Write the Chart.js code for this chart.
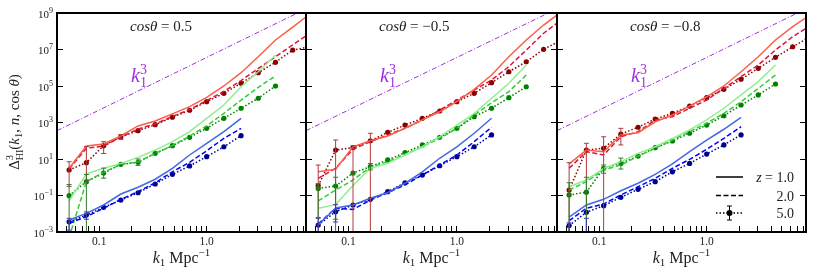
<!DOCTYPE html>
<html>
<head>
<meta charset="utf-8">
<title>Delta HI bispectrum</title>
<script src="https://cdn.jsdelivr.net/npm/chart.js@4.4.1/dist/chart.umd.min.js"></script>
<style>
  body { margin: 0; background: #fff; }
  #fig { position: relative; width: 814px; height: 271px; }
  #fig canvas { position: absolute; left: 0; top: 0; }
</style>
</head>
<body>
<div id="fig">
  <canvas id="panel0" width="814" height="271"></canvas>
  <canvas id="panel1" width="814" height="271"></canvas>
  <canvas id="panel2" width="814" height="271"></canvas>
</div>
<script>
// k1 bins (Mpc^-1), common to every curve
const kVals = [0.0525, 0.076, 0.11, 0.159, 0.23, 0.332, 0.48, 0.694, 1.0, 1.446, 2.09, 3.02, 4.37, 6.32, 9.14];

// axis ranges and ticks
const xMin = 0.0405;
const xMax = 8.4;
const xTickVals = [0.05, 0.06, 0.07, 0.08, 0.09, 0.1, 0.2, 0.3, 0.4, 0.5, 0.6, 0.7, 0.8, 0.9, 1, 2, 3, 4, 5, 6, 7, 8];
const xLabelVals = [0.1, 1.0];
const xLabelText = ['0.1', '1.0'];
const yTickExps = [-3, -1, 1, 3, 5, 7, 9];

// panel titles (cos theta)
const cosVals = ['0.5', '\u22120.5', '\u22120.8'];

// k1^3 guide line: [k, log10 value]
const guideK = [0.0405, 7.0];
const guideLog = [2.55, 9.0];

// legend (line style = redshift)
const legendZ = ['1.0', '2.0', '5.0'];

// values below are log10 of Delta^3
// panel 1: cos theta = 0.5
const p1RedSolid = [0.49, 1.71, 1.82, 2.26, 2.81, 3.08, 3.47, 3.87, 4.38, 5.0, 5.73, 6.6, 7.52, 8.23, 8.95];
const p1RedDash = [0.45, 1.59, 1.71, 2.2, 2.64, 2.92, 3.33, 3.71, 4.2, 4.7, 5.3, 5.96, 6.6, 7.25, 7.9];
const p1RedDot = [0.4, 0.8, 1.73, 2.21, 2.55, 2.88, 3.29, 3.67, 4.14, 4.6, 5.15, 5.73, 6.3, 6.97, 7.15];
const p1GreenSolid = [-1.3, 0.18, 0.49, 0.76, 1.09, 1.49, 1.95, 2.5, 3.23, 3.96, 4.96, 5.78, 6.7];
const p1GreenDash = [-3.3, -0.24, 0.27, 0.71, 0.85, 1.31, 1.73, 2.26, 2.81, 3.5, 4.23, 4.93, 5.55];
const p1GreenDot = [-1.01, -0.24, 0.23, 0.71, 0.82, 1.31, 1.73, 2.19, 2.68, 3.23, 3.78, 4.33, 5.0];
const p1BlueSolid = [-2.34, -1.98, -1.52, -0.92, -0.55, -0.11, 0.49, 1.22, 1.86, 2.5, 3.23];
const p1BlueDash = [-2.52, -2.16, -1.7, -1.21, -0.79, -0.3, 0.3, 0.82, 1.45, 2.13, 2.68];
const p1BlueDot = [-2.44, -2.07, -1.65, -1.25, -0.85, -0.37, 0.16, 0.62, 1.13, 1.67, 2.28];
// error bars on z = 5: [bin, log10 low, log10 high]
const p1ErrRed = [[0, -0.5, 0.85], [1, -0.2, 1.68], [2, 1.3, 1.95], [3, 2.08, 2.34]];
const p1ErrGreen = [[0, -4, -0.4], [1, -4, 0.15], [2, -0.05, 0.5], [4, 0.65, 1.0]];
const p1ErrBlue = [[0, -2.9, -2.25], [1, -2.3, -1.9]];

// panel 2: cos theta = -0.5
const p2RedSolid = [0.3, 0.44, 1.67, 2.0, 2.26, 2.68, 3.14, 3.59, 4.14, 4.82, 5.6, 6.6, 7.52, 8.34, 9.05];
const p2RedDash = [-0.06, 0.49, 1.53, 1.95, 2.32, 2.68, 3.14, 3.68, 4.23, 4.78, 5.33, 6.06, 6.97, 7.89, 8.6];
const p2RedDot = [-0.46, 1.49, 1.62, 2.0, 2.46, 2.86, 3.23, 3.63, 4.14, 4.6, 5.18, 5.78, 6.33, 7.01, 7.5];
const p2GreenSolid = [-1.7, -1.5, -0.45, 0.49, 0.76, 1.22, 1.67, 2.22, 2.86, 3.5, 4.33, 5.15, 6.15];
const p2GreenDash = [-1.3, -0.7, -0.15, 0.55, 0.85, 1.27, 1.67, 2.13, 2.68, 3.41, 4.08, 4.69, 5.6];
const p2GreenDot = [-0.62, -0.48, 0.23, 0.58, 0.95, 1.35, 1.77, 2.19, 2.68, 3.32, 3.78, 4.36, 4.96];
const p2BlueSolid = [-2.62, -1.68, -1.52, -1.15, -0.85, -0.33, 0.3, 1.04, 1.67, 2.41, 3.23];
const p2BlueDash = [-2.56, -1.7, -1.76, -1.25, -0.85, -0.42, 0.12, 0.67, 1.22, 1.95, 2.74];
const p2BlueDot = [-2.62, -1.89, -1.52, -1.21, -0.79, -0.3, 0.12, 0.63, 1.13, 1.67, 2.32];
const p2ErrRed = [[0, -4, 0.67], [1, -4, 2.04], [2, -4, 1.73], [3, -4, 2.41]];
const p2ErrGreen = [[0, -2.2, -0.35], [1, -2.3, 0.0], [3, 0.4, 0.75]];
const p2ErrBlue = [[0, -4, -2.25], [1, -2.45, -1.5]];

// panel 3: cos theta = -0.8
const p3RedSolid = [0.73, 1.49, 1.4, 2.32, 2.44, 3.04, 3.41, 3.9, 4.41, 5.0, 5.78, 6.6, 7.52, 8.25, 8.9];
const p3RedDash = [0.49, 1.4, 1.22, 2.22, 2.5, 3.14, 3.32, 3.78, 4.23, 4.87, 5.51, 6.15, 6.97, 7.7, 8.3];
const p3RedDot = [-0.7, 1.49, 1.59, 2.37, 2.74, 3.19, 3.5, 3.9, 4.36, 4.82, 5.37, 5.97, 6.57, 7.15, 7.7];
const p3GreenSolid = [-0.52, -0.15, 0.49, 0.85, 1.31, 1.67, 2.13, 2.59, 3.14, 3.78, 4.51, 5.24, 6.15];
const p3GreenDash = [-0.7, -0.24, 0.4, 0.67, 1.16, 1.59, 2.04, 2.5, 2.96, 3.5, 4.14, 4.87, 5.6];
const p3GreenDot = [-0.97, -0.82, 0.49, 0.76, 1.16, 1.62, 1.99, 2.41, 2.86, 3.37, 3.96, 4.51, 5.11];
const p3BlueSolid = [-2.19, -1.52, -1.21, -0.74, -0.33, 0.16, 0.73, 1.4, 2.04, 2.63, 3.28];
const p3BlueDash = [-2.38, -1.7, -1.47, -0.97, -0.52, -0.06, 0.49, 0.98, 1.53, 2.13, 2.77];
const p3BlueDot = [-2.65, -1.92, -1.56, -1.1, -0.66, -0.24, 0.3, 0.76, 1.27, 1.77, 2.32];
const p3ErrRed = [[0, -4, 0.8], [1, -4, 1.86], [2, -4, 2.22], [3, 1.77, 2.68]];
const p3ErrGreen = [[0, -4, -0.3], [1, -4, 0.0], [2, 0.22, 0.67], [3, 0.45, 1.05]];
const p3ErrBlue = [[0, -4, -2.5], [1, -4, -2.25]];

// colours per family: [z=1 solid, z=2 dashed, z=5 dotted]
const famColors = {
    red: ['#fa5f45', '#dc143c', '#8b0000'],
    green: ['#90ee90', '#32cd32', '#008000'],
    blue: ['#4169e1', '#0000ff', '#00008b']
};
const errColors = { red: '#b03a3a', green: '#2e7d2e', blue: '#3a3ab0' };
const guideColor = '#a02ee0';

const panels = [
    { red: [p1RedSolid, p1RedDash, p1RedDot], green: [p1GreenSolid, p1GreenDash, p1GreenDot], blue: [p1BlueSolid, p1BlueDash, p1BlueDot],
      err: { red: p1ErrRed, green: p1ErrGreen, blue: p1ErrBlue } },
    { red: [p2RedSolid, p2RedDash, p2RedDot], green: [p2GreenSolid, p2GreenDash, p2GreenDot], blue: [p2BlueSolid, p2BlueDash, p2BlueDot],
      err: { red: p2ErrRed, green: p2ErrGreen, blue: p2ErrBlue } },
    { red: [p3RedSolid, p3RedDash, p3RedDot], green: [p3GreenSolid, p3GreenDash, p3GreenDot], blue: [p3BlueSolid, p3BlueDash, p3BlueDot],
      err: { red: p3ErrRed, green: p3ErrGreen, blue: p3ErrBlue } }
];

// panel boxes in the page (px)
const boxes = [[57, 306], [306, 557], [557, 806]];
const boxTop = 13;
const boxBottom = 232;

const serif = '"Liberation Serif", "DejaVu Serif", serif';
const dashes = [[], [5, 2.5], [1.5, 2]];

// draws text pieces one after the other (for sub/superscripts)
function rich(ctx, parts, x, y, align) {
    let total = 0;
    parts.forEach(p => {
        ctx.font = (p.i ? 'italic ' : '') + p.s + 'px ' + serif;
        p.w = ctx.measureText(p.t).width;
        if (!p.stay) total += p.w;
    });
    let cx = align === 'center' ? x - total / 2 : (align === 'right' ? x - total : x);
    ctx.textAlign = 'left';
    ctx.textBaseline = 'alphabetic';
    parts.forEach(p => {
        ctx.font = (p.i ? 'italic ' : '') + p.s + 'px ' + serif;
        ctx.fillText(p.t, cx, y + (p.dy || 0));
        if (!p.stay) cx += p.w;
    });
}

function curve(vals, color, style) {
    return {
        data: vals.map((v, i) => ({ x: kVals[i], y: Math.pow(10, v) })),
        borderColor: color,
        backgroundColor: color,
        borderWidth: 1.5,
        borderDash: dashes[style],
        pointRadius: style === 2 ? 2.6 : 0,
        pointBorderWidth: 0,
        pointBackgroundColor: color,
        tension: 0,
        fill: false
    };
}

function buildDatasets(panel) {
    const sets = [{
        data: guideK.map((k, i) => ({ x: k, y: Math.pow(10, guideLog[i]) })),
        borderColor: guideColor,
        borderWidth: 1,
        borderDash: [5, 2, 1, 2],
        pointRadius: 0,
        fill: false
    }];
    ['blue', 'green', 'red'].forEach(fam => {
        panel[fam].forEach((vals, s) => sets.push(curve(vals, famColors[fam][s], s)));
    });
    return sets;
}

function logAxis(pos, min, max, ticks) {
    return {
        type: 'logarithmic',
        position: pos,
        min: min,
        max: max,
        border: { display: false },
        grid: { drawOnChartArea: false, drawTicks: true, tickLength: -6, tickColor: '#000', tickWidth: 1 },
        ticks: { display: false },
        afterBuildTicks: axis => { axis.ticks = ticks.map(v => ({ value: v })); },
        afterFit: axis => {
            if (pos === 'bottom') axis.height = 0; else axis.width = 0;
        }
    };
}

function makePanel(idx) {
    const panel = panels[idx];
    const box = boxes[idx];
    const yTicks = yTickExps.map(e => Math.pow(10, e));

    const deco = {
        id: 'deco',
        afterDatasetsDraw(chart) {
            const ctx = chart.ctx;
            const a = chart.chartArea;
            const xs = chart.scales.x;
            const ys = chart.scales.y;
            ctx.save();
            ctx.beginPath();
            ctx.rect(a.left, a.top, a.right - a.left, a.bottom - a.top);
            ctx.clip();
            ctx.lineWidth = 1;
            Object.keys(panel.err).forEach(fam => {
                ctx.strokeStyle = errColors[fam];
                panel.err[fam].forEach(([i, lo, hi]) => {
                    const px = xs.getPixelForValue(kVals[i]);
                    const y1 = ys.getPixelForValue(Math.pow(10, hi));
                    const y2 = ys.getPixelForValue(Math.pow(10, lo));
                    ctx.beginPath();
                    ctx.moveTo(px, y1); ctx.lineTo(px, y2);
                    ctx.moveTo(px - 2.5, y1); ctx.lineTo(px + 2.5, y1);
                    ctx.moveTo(px - 2.5, y2); ctx.lineTo(px + 2.5, y2);
                    ctx.stroke();
                });
            });
            ctx.restore();
        },
        afterDraw(chart) {
            const ctx = chart.ctx;
            const a = chart.chartArea;
            const xs = chart.scales.x;
            const ys = chart.scales.y;
            ctx.save();
            // frame
            ctx.strokeStyle = '#000';
            ctx.lineWidth = 2;
            ctx.strokeRect(a.left, a.top, a.right - a.left, a.bottom - a.top);

            ctx.fillStyle = '#222';
            // x tick labels
            xLabelVals.forEach((v, i) => {
                ctx.font = '11.5px ' + serif;
                ctx.textAlign = 'center';
                ctx.textBaseline = 'alphabetic';
                ctx.fillText(xLabelText[i], xs.getPixelForValue(v), 245);
            });
            // x title
            rich(ctx, [
                { t: 'k', s: 16, i: true },
                { t: '1', s: 11, dy: 3 },
                { t: ' Mpc', s: 16 },
                { t: '\u22121', s: 11, dy: -7 }
            ], (a.left + a.right) / 2, 263, 'center');

            // panel title
            rich(ctx, [
                { t: 'cos\u03b8', s: 15, i: true },
                { t: ' = ' + cosVals[idx], s: 15 }
            ], a.left + 73, 31, 'left');

            // k1^3 label
            ctx.fillStyle = guideColor;
            rich(ctx, [
                { t: 'k', s: 20, i: true },
                { t: '3', s: 14, dy: -8, stay: true },
                { t: '1', s: 14, dy: 5 }
            ], a.left + 74, 82, 'left');
            ctx.fillStyle = '#222';

            if (idx === 0) {
                yTickExps.forEach(e => {
                    const py = ys.getPixelForValue(Math.pow(10, e));
                    rich(ctx, [
                        { t: '10', s: 11 },
                        { t: e < 0 ? '\u2212' + (-e) : String(e), s: 8, dy: -5 }
                    ], 53, py + 4.5, 'right');
                });
                ctx.translate(15, 122);
                ctx.rotate(-Math.PI / 2);
                rich(ctx, [
                    { t: '\u0394', s: 15 },
                    { t: '3', s: 10.5, dy: -6.5, stay: true },
                    { t: 'HI', s: 10, dy: 3.5 },
                    { t: '(', s: 15 },
                    { t: 'k', s: 15, i: true },
                    { t: '1', s: 10.5, dy: 3 },
                    { t: ', ', s: 15 },
                    { t: 'n', s: 15, i: true },
                    { t: ', cos ', s: 15 },
                    { t: '\u03b8', s: 15, i: true },
                    { t: ')', s: 15 }
                ], 0, 4, 'center');
            }

            if (idx === 2) {
                const rows = [177, 195.5, 213];
                const x1 = 716, x2 = 743;
                ctx.strokeStyle = '#000';
                ctx.fillStyle = '#000';
                ctx.lineWidth = 1.5;
                rows.forEach((ry, s) => {
                    ctx.setLineDash(dashes[s]);
                    ctx.beginPath();
                    ctx.moveTo(x1, ry); ctx.lineTo(x2, ry);
                    ctx.stroke();
                });
                ctx.setLineDash([]);
                ctx.lineWidth = 1;
                const mx = (x1 + x2) / 2;
                ctx.beginPath();
                ctx.moveTo(mx, rows[2] - 7); ctx.lineTo(mx, rows[2] + 7);
                ctx.moveTo(mx - 2.5, rows[2] - 7); ctx.lineTo(mx + 2.5, rows[2] - 7);
                ctx.moveTo(mx - 2.5, rows[2] + 7); ctx.lineTo(mx + 2.5, rows[2] + 7);
                ctx.stroke();
                ctx.beginPath();
                ctx.arc(mx, rows[2], 3, 0, Math.PI * 2);
                ctx.fill();
                ctx.fillStyle = '#222';
                rich(ctx, [{ t: 'z', s: 14, i: true }, { t: ' = ' + legendZ[0], s: 14 }], 794, rows[0] + 5, 'right');
                rich(ctx, [{ t: legendZ[1], s: 14 }], 794, rows[1] + 5, 'right');
                rich(ctx, [{ t: legendZ[2], s: 14 }], 794, rows[2] + 5, 'right');
            }
            ctx.restore();
        }
    };

    return new Chart(document.getElementById('panel' + idx), {
        type: 'line',
        data: { datasets: buildDatasets(panel) },
        options: {
            responsive: false,
            animation: false,
            events: [],
            layout: { padding: { left: box[0], right: 814 - box[1], top: boxTop, bottom: 271 - boxBottom } },
            plugins: { legend: { display: false }, tooltip: { enabled: false } },
            scales: {
                x: logAxis('bottom', xMin, xMax, xTickVals),
                y: logAxis('left', 1e-3, 1e9, yTicks),
                yr: logAxis('right', 1e-3, 1e9, yTicks)
            }
        },
        plugins: [deco]
    });
}

document.addEventListener('DOMContentLoaded', function() {
    [0, 1, 2].forEach(makePanel);
});
</script>
</body>
</html>
